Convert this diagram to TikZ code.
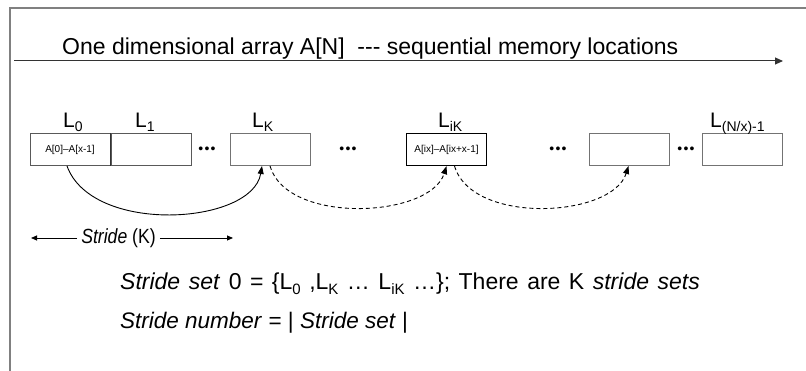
\documentclass[tikz,border=0pt]{standalone}
\usepackage{fontspec}
\setmainfont{Liberation Sans}
\usetikzlibrary{arrows.meta}
% subscript used in the location labels
\newcommand\lsub[2]{\raisebox{-#2}{\fontsize{14}{14}\selectfont #1}}
\newcommand\tsub[1]{\raisebox{-5pt}{\fontsize{15}{15}\selectfont #1}}
\newcommand\threedots{\textbullet\kern1.2pt\textbullet\kern1.2pt\textbullet}
\begin{document}
\begin{tikzpicture}[x=1pt,y=-1pt,
  frame/.style={draw=black!50, line width=2pt},
  cell/.style={draw=black!65, line width=1pt, minimum width=80pt, minimum height=32pt, inner sep=0pt,
    font=\fontsize{10}{12}\selectfont},
  lab/.style={anchor=base west, inner sep=0pt, font=\fontsize{21}{24}\selectfont},
  dots/.style={inner sep=0pt, font=\fontsize{14}{16}\selectfont},
  txt/.style={anchor=base west, inner sep=0pt, font=\fontsize{23}{26}\selectfont},
  jump/.style={line width=0.9pt, -{Triangle[length=8pt,width=6pt]}},
  jumpd/.style={jump, dashed, dash pattern=on 4pt off 3pt}
]
\useasboundingbox (0,0) rectangle (806,371);
% partial frame
\draw[frame] (10,371) -- (10,8) -- (806,8);

% memory direction
\node[txt] (title) at (62,55) {One dimensional array A[N]\ \ {-}{-}{-} sequential memory locations};
\coordinate (a0) at (14,61);
\coordinate (a1) at (783,61);
\draw[line width=1pt, black!80, -{Triangle[length=8pt,width=7pt]}] (a0) -- (a1);

% cells
\node[cell] (c0) at (70,149.5) {A[0]--A[x-1]};
\node[cell, anchor=west] (c1) at (c0.east) {};
\node[cell, draw=black!55] (ck) at (270,149.5) {};
\node[cell, draw=black, line width=1.4pt] (cik) at (446.5,149.5) {A[ix]--A[ix+x-1]};
\node[cell, draw=black!55] (cn) at (629.5,149.5) {};
\node[cell, draw=black!55] (cl) at (742,149.5) {};
\draw[black!80, line width=1.2pt] (c0.north east) -- (c0.south east);

\node[dots] (d1) at (207,150) {\threedots};
\node[dots] (d2) at (348,150) {\threedots};
\node[dots] (d3) at (558,150) {\threedots};
\node[dots] (d4) at (686,150) {\threedots};

% labels
\node[lab] (l0) at (63,128) {L\lsub{0}{4pt}};
\node[lab] (l1) at (135,128) {L\lsub{1}{4pt}};
\node[lab] (lk) at (252,128) {L\lsub{K}{4pt}};
\node[lab] (lik) at (438,128) {L\lsub{iK}{4pt}};
\node[lab] (ll) at (710,128) {L\lsub{(N/x)-1}{4pt}};

% stride jumps
\draw[jump] ([xshift=-3pt]c0.south) .. controls (92,235) and (252,225) .. ([xshift=-8pt]ck.south);
\draw[jumpd] (ck.south) .. controls (287,225) and (430,218) .. (cik.south);
\draw[jumpd] ([xshift=8pt]cik.south) .. controls (472,225) and (612,218) .. ([xshift=-1pt]cn.south);

% stride width
\node[txt, anchor=center, font=\fontsize{20.5}{24}\selectfont] (st) at (118.5,238) {\scalebox{0.86}[1]{\textit{Stride} (K)}};
\coordinate (s0) at (31,238);
\coordinate (s1) at (233,238);
\draw[line width=0.8pt, -{Triangle[length=6pt,width=5pt]}] ([xshift=-4pt]st.west) -- (s0);
\draw[line width=0.8pt, -{Triangle[length=6pt,width=5pt]}] ([xshift=4pt]st.east) -- (s1);

% stride sets
\node[txt] (set) at (120,290) {\spaceskip=8.5pt\textit{Stride set} 0 = \{L\tsub{0} ,L\tsub{K} \dots\ L\tsub{iK} \dots\}; There are K \textit{stride sets}};
\node[txt, font=\fontsize{22.5}{26}\selectfont] (num) at (120,329) {\textit{Stride number} = | \textit{Stride set} |};
\end{tikzpicture}
\end{document}
